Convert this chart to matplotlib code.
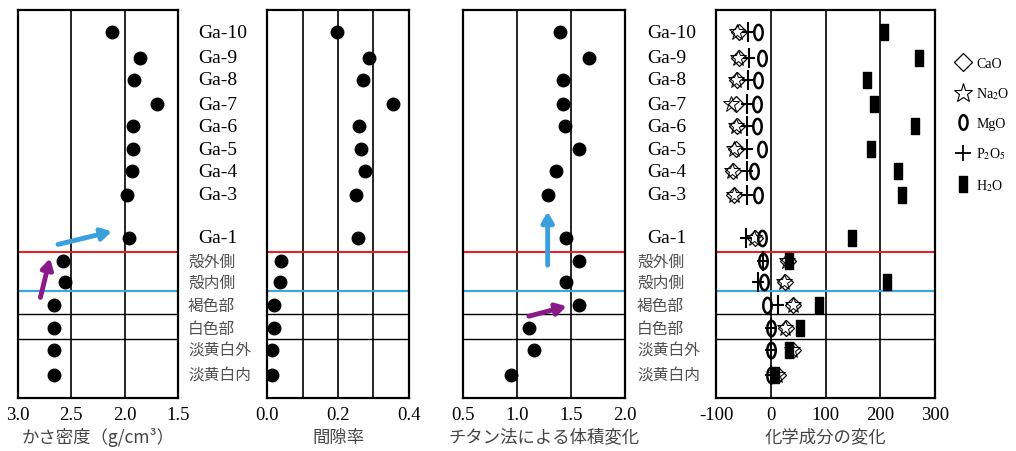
import numpy as np
import matplotlib
matplotlib.use('Agg')
import matplotlib.pyplot as plt
from matplotlib.path import Path
from matplotlib.lines import Line2D
import matplotlib.transforms as mtrans

plt.rcParams['font.family'] = ['Liberation Serif', 'Noto Sans CJK JP', 'DejaVu Sans']
plt.rcParams['mathtext.fontset'] = 'stix'

# ---- data ----
labels = ['Ga-10', 'Ga-9', 'Ga-8', 'Ga-7', 'Ga-6', 'Ga-5', 'Ga-4', 'Ga-3', 'Ga-1',
          '殻外側', '殻内側', '褐色部', '白色部', '淡黄白外', '淡黄白内']
bulk_density = [2.12, 1.86, 1.91, 1.70, 1.92, 1.92, 1.93, 1.98, 1.96,
                2.58, 2.56, 2.66, 2.66, 2.66, 2.66]
porosity = [0.198, 0.287, 0.271, 0.356, 0.259, 0.264, 0.275, 0.252, 0.257,
            0.040, 0.037, 0.020, 0.020, 0.015, 0.015]
vol_change = [1.40, 1.67, 1.43, 1.43, 1.44, 1.57, 1.36, 1.29, 1.45,
              1.57, 1.45, 1.57, 1.11, 1.16, 0.94]
cao = [-58, -58, -61, -64, -61, -64, -69, -67, -29, 31, 26, 41, 28, 40, 13]
na2o = [-61, -59, -63, -72, -63, -67, -70, -68, -31, 30, 25, 40, 26, 39, 12]
mgo = [-23, -16, -23, -25, -25, -16, -31, -23, -16, -15, -13, -6, 0, 0, 0]
p2o5 = [-42, -40, -42, -44, -43, -43, -43, -43, -45, -15, -23, 13, 0, 0, 0]
h2o = [206, 271, 175, 188, 264, 183, 233, 240, 149, 34, 213, 88, 53, 34, 7]

# row layout (Ga-3 -> Ga-1 has a bigger gap)
row_pos = [0, 1.1, 2.05, 3.1, 4.05, 5.05, 6.0, 7.0, 8.85,
           9.85, 10.75, 11.75, 12.75, 13.7, 14.75]
sep_lines = [(9.45, '#e8202a', 1.5), (11.15, '#3aa8df', 1.6),
             (12.15, 'black', 1.0), (13.2, 'black', 1.0)]
ylim = (15.75, -0.95)

# custom markers
t = np.linspace(0, 2 * np.pi, 60)
ellipse = Path(np.column_stack([0.55 * np.cos(t), np.sin(t)]), closed=True)
rect = Path([(-0.5, -1), (0.5, -1), (0.5, 1), (-0.5, 1), (-0.5, -1)], closed=True)
tallplus = Path([(0, -1), (0, 1), (-0.6, 0), (0.6, 0)],
                [Path.MOVETO, Path.LINETO, Path.MOVETO, Path.LINETO])

fig = plt.figure(figsize=(10.16, 4.52), dpi=100)
W, H = 1016, 452


def make_ax(left_px, width_px):
    return fig.add_axes([left_px / W, 1 - 399 / H, width_px / W, 388 / H])


ax1 = make_ax(18, 160)
ax2 = make_ax(267, 142)
ax3 = make_ax(463, 162)
ax4 = make_ax(716, 219)

setups = [
    (ax1, (3.0, 1.5), [3.0, 2.5, 2.0, 1.5], ['3.0', '2.5', '2.0', '1.5'], [2.5, 2.0],
     'かさ密度（g/cm³）'),
    (ax2, (0.0, 0.4), [0.0, 0.2, 0.4], ['0.0', '0.2', '0.4'], [0.1, 0.2, 0.3], '間隙率'),
    (ax3, (0.5, 2.0), [0.5, 1.0, 1.5, 2.0], ['0.5', '1.0', '1.5', '2.0'], [1.0, 1.5],
     'チタン法による体積変化'),
    (ax4, (-100, 300), [-100, 0, 100, 200, 300], ['-100', '0', '100', '200', '300'],
     [0, 100, 200], '化学成分の変化'),
]

for ax, xl, ticks, ticklabels, grid, xlabel in setups:
    ax.set_xlim(*xl)
    ax.set_ylim(*ylim)
    ax.set_yticks([])
    ax.set_xticks(ticks)
    ax.set_xticklabels(ticklabels, fontsize=13.5)
    ax.tick_params(axis='x', length=0, pad=6)
    for g in grid:
        ax.axvline(g, color='black', lw=1.2, zorder=1)
    for yv, c, lw in sep_lines:
        ax.axhline(yv, color=c, lw=lw, zorder=1)
    for s in ax.spines.values():
        s.set_linewidth(1.6)
    ax.set_xlabel(xlabel, fontsize=12.5, family=['Noto Sans CJK JP', 'DejaVu Sans'],
                  color='#444444', labelpad=3)

dot = dict(marker='o', ms=9, color='black', ls='none', zorder=3)
ax1.plot(bulk_density, row_pos, **dot)
ax2.plot(porosity, row_pos, **dot)
ax3.plot(vol_change, row_pos, **dot)

# chemical change panel
ax4.plot(h2o, row_pos, marker=rect, ms=11.5, color='black', ls='none', zorder=3)
ax4.plot(cao, row_pos, marker='D', ms=8.5, mfc='none', mec='black', mew=0.9,
         ls='none', zorder=4)
ax4.plot(na2o, row_pos, marker='*', ms=12, mfc='none', mec='black', mew=0.7,
         ls='none', zorder=4)
ax4.plot(p2o5, row_pos, marker=tallplus, ms=14, color='black', mew=1.5, ls='none',
         zorder=4)
ax4.plot(mgo, row_pos, marker=ellipse, ms=11, mfc='none', mec='black', mew=1.8,
         ls='none', zorder=4)

# row labels
for ax_left, x_ga, x_jp in [(ax1, 198, 188), (ax3, 647, 637)]:
    tr_ga = mtrans.blended_transform_factory(fig.transFigure, ax_left.transData)
    for lab, y in zip(labels, row_pos):
        if lab.startswith('Ga'):
            fig.text(x_ga / W, y, lab, transform=tr_ga, fontsize=14, va='center',
                     ha='left', color='black')
        else:
            fig.text(x_jp / W, y, lab, transform=tr_ga, fontsize=11.3, va='center',
                     ha='left', color='#505050',
                     family=['Noto Sans CJK JP', 'DejaVu Sans'])

# arrows
arrow_blue = '#3aa0dc'
arrow_purple = '#8a1a87'
arr = dict(arrowstyle='-|>,head_length=0.6,head_width=0.35', lw=3.5, shrinkA=0, shrinkB=0)
ax1.annotate('', xy=(2.12, 8.58), xytext=(2.625, 9.14),
             arrowprops=dict(color=arrow_blue, **arr), zorder=5)
ax1.annotate('', xy=(2.70, 9.74), xytext=(2.79, 11.42),
             arrowprops=dict(color=arrow_purple, **arr), zorder=5)
ax3.annotate('', xy=(1.284, 7.73), xytext=(1.284, 10.03),
             arrowprops=dict(color=arrow_blue, **arr), zorder=5)
ax3.annotate('', xy=(1.46, 11.8), xytext=(1.11, 12.23),
             arrowprops=dict(color=arrow_purple, **arr), zorder=5)

# legend
handles = [
    Line2D([], [], marker='D', ms=9, mfc='none', mec='black', mew=0.9, ls='none'),
    Line2D([], [], marker='*', ms=14, mfc='none', mec='black', mew=0.8, ls='none'),
    Line2D([], [], marker=ellipse, ms=10.5, mfc='none', mec='black', mew=1.8, ls='none'),
    Line2D([], [], marker='+', ms=12, color='black', mew=1.3, ls='none'),
    Line2D([], [], marker=rect, ms=12, color='black', ls='none'),
]
leg_labels = ['CaO', r'Na$_{2}$O', 'MgO', r'P$_{2}$O$_{5}$', r'H$_{2}$O']
fig.legend(handles, leg_labels, loc='upper left', bbox_to_anchor=(948 / W, 1 - 51 / H),
           frameon=False, fontsize=10, labelspacing=1.12, handletextpad=0.35,
           handlelength=1.2, borderpad=0)

fig.savefig('out.png', dpi=100)
